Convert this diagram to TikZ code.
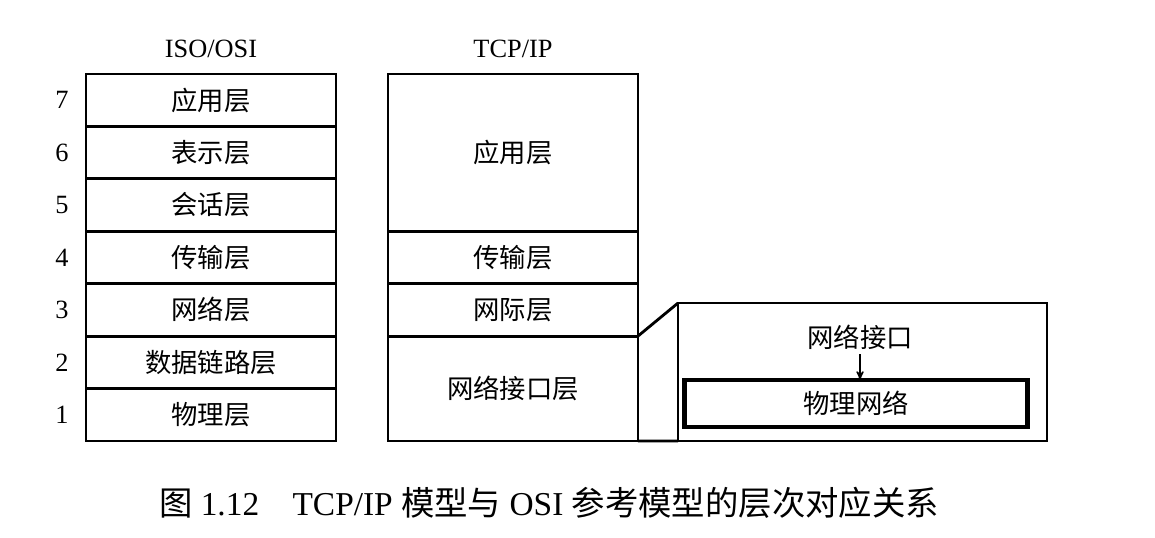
\documentclass[tikz,border=0pt]{standalone}
\usepackage{fontspec}
\setmainfont{Liberation Serif}
\newfontfamily\cjk{Noto Sans CJK SC}
\usetikzlibrary{arrows,positioning}

\begin{document}
\begin{tikzpicture}[x=0.02cm,y=-0.02cm,
    line width=1.6pt,
    >=stealth',
    layer/.style = {
      draw,
      rectangle,
      outer sep = 0pt,
      inner sep = 0pt,
      minimum width = 5cm,
      minimum height = 1.0486cm,
      font = \cjk\fontsize{15}{15}\selectfont
    },
    num/.style = {
      inner sep = 0pt,
      font = \fontsize{15}{15}\selectfont
    },
    title/.style = {
      inner sep = 0pt,
      font = \fontsize{15}{15}\selectfont
    }
  ]
  \useasboundingbox (0,0) rectangle (1155,537);

  % ISO/OSI stack
  \node[title] (osititle) at (211,49) {ISO/OSI};
  \node[layer, anchor=north] (osi7) at (211,74) {应用层};
  \node[layer, below=0pt of osi7] (osi6) {表示层};
  \node[layer, below=0pt of osi6] (osi5) {会话层};
  \node[layer, below=0pt of osi5] (osi4) {传输层};
  \node[layer, below=0pt of osi4] (osi3) {网络层};
  \node[layer, below=0pt of osi3] (osi2) {数据链路层};
  \node[layer, below=0pt of osi2] (osi1) {物理层};

  \node[num, left=0.32cm of osi7] (n7) {7};
  \node[num, left=0.32cm of osi6] (n6) {6};
  \node[num, left=0.32cm of osi5] (n5) {5};
  \node[num, left=0.32cm of osi4] (n4) {4};
  \node[num, left=0.32cm of osi3] (n3) {3};
  \node[num, left=0.32cm of osi2] (n2) {2};
  \node[num, left=0.32cm of osi1] (n1) {1};

  % TCP/IP stack
  \node[title] (tcptitle) at (513,49) {TCP/IP};
  \node[layer, anchor=north, minimum height=3.1458cm] (tcpapp) at (513,74) {应用层};
  \node[layer, below=0pt of tcpapp] (tcptrans) {传输层};
  \node[layer, below=0pt of tcptrans] (tcpnet) {网际层};
  \node[layer, below=0pt of tcpnet, minimum height=2.0972cm] (tcplink) {网络接口层};

  % network interface detail
  \node[draw, outer sep=0pt, minimum width=7.38cm, minimum height=2.76cm, anchor=south west] (ifbox) at (678,441) {};
  \draw (tcpnet.south east) -- (ifbox.north west);
  \draw (tcplink.south east) -- (ifbox.south west);
  \node[layer, line width=2.4pt, minimum width=6.86cm, minimum height=0.94cm] (phys) at (856,403.5) {物理网络};
  \node[inner sep=0pt, font=\cjk\fontsize{15}{15}\selectfont] (ifname) at (860,337) {网络接口};
  \draw[->, line width=0.8pt, shorten <=2pt] (ifname.south) -- (ifname.south |- phys.north);

  % caption
  \node[inner sep=0pt, font=\fontsize{19}{19}\selectfont] (caption) at (549,503)
    {{\cjk 图} 1.12\quad TCP/IP {\cjk 模型与} OSI {\cjk 参考模型的层次对应关系}};
\end{tikzpicture}
\end{document}
